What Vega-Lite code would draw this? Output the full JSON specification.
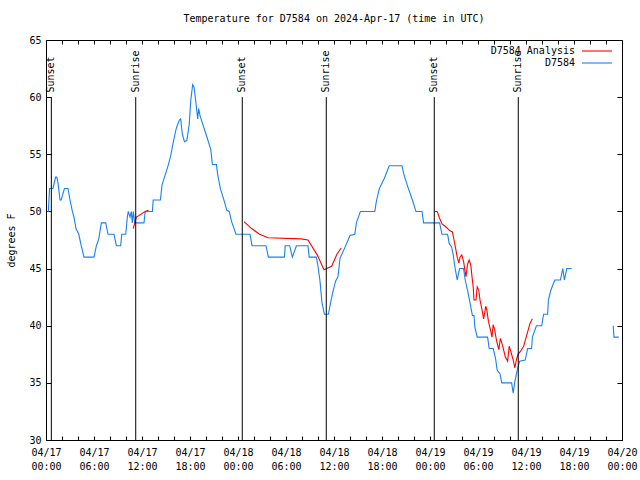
{
  "$schema": "https://vega.github.io/schema/vega-lite/v6.json",
  "width": 576,
  "height": 400,
  "autosize": {"type": "none"},
  "padding": {"left": 46, "top": 40, "right": 18, "bottom": 40},
  "background": "white",
  "title": {"text": "Temperature for D7584 on 2024-Apr-17 (time in UTC)", "font": "DejaVu Sans Mono", "fontSize": 10, "fontWeight": "normal", "color": "black", "offset": 11},
  "config": {
    "view": {"stroke": "black", "strokeWidth": 1},
    "axis": {"labelFont": "DejaVu Sans Mono", "labelFontSize": 10, "labelColor": "black", "titleFont": "DejaVu Sans Mono", "titleFontSize": 10, "titleFontWeight": "normal", "titleColor": "black", "grid": false, "domain": false, "tickColor": "black", "tickWidth": 1}
  },
  "datasets": {
    "temps": [
      {"time": "2024-04-17T00:10:00Z", "temp": 50, "series": "D7584", "seg": "b1"},
      {"time": "2024-04-17T00:18:00Z", "temp": 50, "series": "D7584", "seg": "b1"},
      {"time": "2024-04-17T00:22:00Z", "temp": 51, "series": "D7584", "seg": "b1"},
      {"time": "2024-04-17T00:27:00Z", "temp": 52, "series": "D7584", "seg": "b1"},
      {"time": "2024-04-17T00:52:00Z", "temp": 52, "series": "D7584", "seg": "b1"},
      {"time": "2024-04-17T01:00:00Z", "temp": 52.4, "series": "D7584", "seg": "b1"},
      {"time": "2024-04-17T01:12:00Z", "temp": 53, "series": "D7584", "seg": "b1"},
      {"time": "2024-04-17T01:21:00Z", "temp": 53, "series": "D7584", "seg": "b1"},
      {"time": "2024-04-17T01:30:00Z", "temp": 52.5, "series": "D7584", "seg": "b1"},
      {"time": "2024-04-17T01:45:00Z", "temp": 51, "series": "D7584", "seg": "b1"},
      {"time": "2024-04-17T01:54:00Z", "temp": 51, "series": "D7584", "seg": "b1"},
      {"time": "2024-04-17T02:18:00Z", "temp": 52, "series": "D7584", "seg": "b1"},
      {"time": "2024-04-17T02:45:00Z", "temp": 52, "series": "D7584", "seg": "b1"},
      {"time": "2024-04-17T03:00:00Z", "temp": 51, "series": "D7584", "seg": "b1"},
      {"time": "2024-04-17T03:18:00Z", "temp": 50, "series": "D7584", "seg": "b1"},
      {"time": "2024-04-17T03:30:00Z", "temp": 49.5, "series": "D7584", "seg": "b1"},
      {"time": "2024-04-17T03:45:00Z", "temp": 48.5, "series": "D7584", "seg": "b1"},
      {"time": "2024-04-17T04:06:00Z", "temp": 48, "series": "D7584", "seg": "b1"},
      {"time": "2024-04-17T04:24:00Z", "temp": 47, "series": "D7584", "seg": "b1"},
      {"time": "2024-04-17T04:45:00Z", "temp": 46, "series": "D7584", "seg": "b1"},
      {"time": "2024-04-17T06:00:00Z", "temp": 46, "series": "D7584", "seg": "b1"},
      {"time": "2024-04-17T06:18:00Z", "temp": 47, "series": "D7584", "seg": "b1"},
      {"time": "2024-04-17T06:36:00Z", "temp": 47.6, "series": "D7584", "seg": "b1"},
      {"time": "2024-04-17T06:55:00Z", "temp": 49, "series": "D7584", "seg": "b1"},
      {"time": "2024-04-17T07:28:00Z", "temp": 49, "series": "D7584", "seg": "b1"},
      {"time": "2024-04-17T07:45:00Z", "temp": 48, "series": "D7584", "seg": "b1"},
      {"time": "2024-04-17T08:30:00Z", "temp": 48, "series": "D7584", "seg": "b1"},
      {"time": "2024-04-17T08:48:00Z", "temp": 47, "series": "D7584", "seg": "b1"},
      {"time": "2024-04-17T09:20:00Z", "temp": 47, "series": "D7584", "seg": "b1"},
      {"time": "2024-04-17T09:28:00Z", "temp": 48, "series": "D7584", "seg": "b1"},
      {"time": "2024-04-17T09:58:00Z", "temp": 48, "series": "D7584", "seg": "b1"},
      {"time": "2024-04-17T10:10:00Z", "temp": 49.5, "series": "D7584", "seg": "b1"},
      {"time": "2024-04-17T10:17:00Z", "temp": 50, "series": "D7584", "seg": "b1"},
      {"time": "2024-04-17T10:30:00Z", "temp": 49.5, "series": "D7584", "seg": "b1"},
      {"time": "2024-04-17T10:40:00Z", "temp": 50, "series": "D7584", "seg": "b1"},
      {"time": "2024-04-17T10:47:00Z", "temp": 49, "series": "D7584", "seg": "b1"},
      {"time": "2024-04-17T10:55:00Z", "temp": 50, "series": "D7584", "seg": "b1"},
      {"time": "2024-04-17T11:05:00Z", "temp": 49, "series": "D7584", "seg": "b1"},
      {"time": "2024-04-17T12:15:00Z", "temp": 49, "series": "D7584", "seg": "b1"},
      {"time": "2024-04-17T12:24:00Z", "temp": 50, "series": "D7584", "seg": "b1"},
      {"time": "2024-04-17T13:18:00Z", "temp": 50, "series": "D7584", "seg": "b1"},
      {"time": "2024-04-17T13:24:00Z", "temp": 51, "series": "D7584", "seg": "b1"},
      {"time": "2024-04-17T14:18:00Z", "temp": 51, "series": "D7584", "seg": "b1"},
      {"time": "2024-04-17T14:30:00Z", "temp": 52.3, "series": "D7584", "seg": "b1"},
      {"time": "2024-04-17T14:54:00Z", "temp": 53.2, "series": "D7584", "seg": "b1"},
      {"time": "2024-04-17T15:18:00Z", "temp": 54.1, "series": "D7584", "seg": "b1"},
      {"time": "2024-04-17T15:36:00Z", "temp": 54.9, "series": "D7584", "seg": "b1"},
      {"time": "2024-04-17T15:48:00Z", "temp": 55.7, "series": "D7584", "seg": "b1"},
      {"time": "2024-04-17T16:06:00Z", "temp": 56.7, "series": "D7584", "seg": "b1"},
      {"time": "2024-04-17T16:18:00Z", "temp": 57.3, "series": "D7584", "seg": "b1"},
      {"time": "2024-04-17T16:40:00Z", "temp": 58, "series": "D7584", "seg": "b1"},
      {"time": "2024-04-17T16:50:00Z", "temp": 58.1, "series": "D7584", "seg": "b1"},
      {"time": "2024-04-17T17:02:00Z", "temp": 56.8, "series": "D7584", "seg": "b1"},
      {"time": "2024-04-17T17:18:00Z", "temp": 56.1, "series": "D7584", "seg": "b1"},
      {"time": "2024-04-17T17:36:00Z", "temp": 56.2, "series": "D7584", "seg": "b1"},
      {"time": "2024-04-17T17:54:00Z", "temp": 57.6, "series": "D7584", "seg": "b1"},
      {"time": "2024-04-17T18:06:00Z", "temp": 59.75, "series": "D7584", "seg": "b1"},
      {"time": "2024-04-17T18:20:00Z", "temp": 61.1, "series": "D7584", "seg": "b1"},
      {"time": "2024-04-17T18:30:00Z", "temp": 60.9, "series": "D7584", "seg": "b1"},
      {"time": "2024-04-17T18:42:00Z", "temp": 59.75, "series": "D7584", "seg": "b1"},
      {"time": "2024-04-17T18:58:00Z", "temp": 58.1, "series": "D7584", "seg": "b1"},
      {"time": "2024-04-17T19:05:00Z", "temp": 59, "series": "D7584", "seg": "b1"},
      {"time": "2024-04-17T19:15:00Z", "temp": 58.4, "series": "D7584", "seg": "b1"},
      {"time": "2024-04-17T19:28:00Z", "temp": 57.9, "series": "D7584", "seg": "b1"},
      {"time": "2024-04-17T19:45:00Z", "temp": 57.3, "series": "D7584", "seg": "b1"},
      {"time": "2024-04-17T20:18:00Z", "temp": 56.1, "series": "D7584", "seg": "b1"},
      {"time": "2024-04-17T20:36:00Z", "temp": 55.4, "series": "D7584", "seg": "b1"},
      {"time": "2024-04-17T20:48:00Z", "temp": 54.1, "series": "D7584", "seg": "b1"},
      {"time": "2024-04-17T21:18:00Z", "temp": 54.1, "series": "D7584", "seg": "b1"},
      {"time": "2024-04-17T21:28:00Z", "temp": 53.2, "series": "D7584", "seg": "b1"},
      {"time": "2024-04-17T21:48:00Z", "temp": 52, "series": "D7584", "seg": "b1"},
      {"time": "2024-04-17T22:12:00Z", "temp": 51.1, "series": "D7584", "seg": "b1"},
      {"time": "2024-04-17T22:36:00Z", "temp": 50.1, "series": "D7584", "seg": "b1"},
      {"time": "2024-04-17T22:54:00Z", "temp": 50, "series": "D7584", "seg": "b1"},
      {"time": "2024-04-17T23:12:00Z", "temp": 49.1, "series": "D7584", "seg": "b1"},
      {"time": "2024-04-17T23:45:00Z", "temp": 48, "series": "D7584", "seg": "b1"},
      {"time": "2024-04-18T01:30:00Z", "temp": 48, "series": "D7584", "seg": "b1"},
      {"time": "2024-04-18T01:45:00Z", "temp": 47, "series": "D7584", "seg": "b1"},
      {"time": "2024-04-18T03:30:00Z", "temp": 47, "series": "D7584", "seg": "b1"},
      {"time": "2024-04-18T03:48:00Z", "temp": 46, "series": "D7584", "seg": "b1"},
      {"time": "2024-04-18T05:48:00Z", "temp": 46, "series": "D7584", "seg": "b1"},
      {"time": "2024-04-18T05:54:00Z", "temp": 47, "series": "D7584", "seg": "b1"},
      {"time": "2024-04-18T06:27:00Z", "temp": 47, "series": "D7584", "seg": "b1"},
      {"time": "2024-04-18T06:48:00Z", "temp": 46, "series": "D7584", "seg": "b1"},
      {"time": "2024-04-18T07:18:00Z", "temp": 47, "series": "D7584", "seg": "b1"},
      {"time": "2024-04-18T08:45:00Z", "temp": 47, "series": "D7584", "seg": "b1"},
      {"time": "2024-04-18T08:54:00Z", "temp": 46, "series": "D7584", "seg": "b1"},
      {"time": "2024-04-18T09:48:00Z", "temp": 46, "series": "D7584", "seg": "b1"},
      {"time": "2024-04-18T10:00:00Z", "temp": 45.2, "series": "D7584", "seg": "b1"},
      {"time": "2024-04-18T10:15:00Z", "temp": 43.9, "series": "D7584", "seg": "b1"},
      {"time": "2024-04-18T10:30:00Z", "temp": 42, "series": "D7584", "seg": "b1"},
      {"time": "2024-04-18T10:48:00Z", "temp": 41, "series": "D7584", "seg": "b1"},
      {"time": "2024-04-18T11:18:00Z", "temp": 41, "series": "D7584", "seg": "b1"},
      {"time": "2024-04-18T11:36:00Z", "temp": 42.1, "series": "D7584", "seg": "b1"},
      {"time": "2024-04-18T11:54:00Z", "temp": 43.1, "series": "D7584", "seg": "b1"},
      {"time": "2024-04-18T12:12:00Z", "temp": 43.9, "series": "D7584", "seg": "b1"},
      {"time": "2024-04-18T12:30:00Z", "temp": 44.3, "series": "D7584", "seg": "b1"},
      {"time": "2024-04-18T12:45:00Z", "temp": 45.9, "series": "D7584", "seg": "b1"},
      {"time": "2024-04-18T13:24:00Z", "temp": 46.9, "series": "D7584", "seg": "b1"},
      {"time": "2024-04-18T14:00:00Z", "temp": 47.9, "series": "D7584", "seg": "b1"},
      {"time": "2024-04-18T14:36:00Z", "temp": 48, "series": "D7584", "seg": "b1"},
      {"time": "2024-04-18T14:48:00Z", "temp": 49, "series": "D7584", "seg": "b1"},
      {"time": "2024-04-18T15:18:00Z", "temp": 50, "series": "D7584", "seg": "b1"},
      {"time": "2024-04-18T17:06:00Z", "temp": 50, "series": "D7584", "seg": "b1"},
      {"time": "2024-04-18T17:18:00Z", "temp": 50.9, "series": "D7584", "seg": "b1"},
      {"time": "2024-04-18T17:40:00Z", "temp": 52, "series": "D7584", "seg": "b1"},
      {"time": "2024-04-18T18:18:00Z", "temp": 52.9, "series": "D7584", "seg": "b1"},
      {"time": "2024-04-18T18:54:00Z", "temp": 54, "series": "D7584", "seg": "b1"},
      {"time": "2024-04-18T20:30:00Z", "temp": 54, "series": "D7584", "seg": "b1"},
      {"time": "2024-04-18T20:45:00Z", "temp": 53.2, "series": "D7584", "seg": "b1"},
      {"time": "2024-04-18T21:18:00Z", "temp": 52, "series": "D7584", "seg": "b1"},
      {"time": "2024-04-18T21:48:00Z", "temp": 51, "series": "D7584", "seg": "b1"},
      {"time": "2024-04-18T22:15:00Z", "temp": 50, "series": "D7584", "seg": "b1"},
      {"time": "2024-04-18T23:00:00Z", "temp": 50, "series": "D7584", "seg": "b1"},
      {"time": "2024-04-18T23:12:00Z", "temp": 49, "series": "D7584", "seg": "b1"},
      {"time": "2024-04-19T01:12:00Z", "temp": 49, "series": "D7584", "seg": "b1"},
      {"time": "2024-04-19T01:30:00Z", "temp": 48, "series": "D7584", "seg": "b1"},
      {"time": "2024-04-19T02:12:00Z", "temp": 48, "series": "D7584", "seg": "b1"},
      {"time": "2024-04-19T02:24:00Z", "temp": 47.2, "series": "D7584", "seg": "b1"},
      {"time": "2024-04-19T02:42:00Z", "temp": 46.9, "series": "D7584", "seg": "b1"},
      {"time": "2024-04-19T02:54:00Z", "temp": 46.2, "series": "D7584", "seg": "b1"},
      {"time": "2024-04-19T03:06:00Z", "temp": 45.2, "series": "D7584", "seg": "b1"},
      {"time": "2024-04-19T03:24:00Z", "temp": 44, "series": "D7584", "seg": "b1"},
      {"time": "2024-04-19T03:42:00Z", "temp": 45, "series": "D7584", "seg": "b1"},
      {"time": "2024-04-19T04:12:00Z", "temp": 45, "series": "D7584", "seg": "b1"},
      {"time": "2024-04-19T04:24:00Z", "temp": 44, "series": "D7584", "seg": "b1"},
      {"time": "2024-04-19T04:42:00Z", "temp": 43.1, "series": "D7584", "seg": "b1"},
      {"time": "2024-04-19T05:00:00Z", "temp": 42, "series": "D7584", "seg": "b1"},
      {"time": "2024-04-19T05:18:00Z", "temp": 40.9, "series": "D7584", "seg": "b1"},
      {"time": "2024-04-19T05:30:00Z", "temp": 40.9, "series": "D7584", "seg": "b1"},
      {"time": "2024-04-19T05:36:00Z", "temp": 39.9, "series": "D7584", "seg": "b1"},
      {"time": "2024-04-19T05:54:00Z", "temp": 39, "series": "D7584", "seg": "b1"},
      {"time": "2024-04-19T07:12:00Z", "temp": 39, "series": "D7584", "seg": "b1"},
      {"time": "2024-04-19T07:24:00Z", "temp": 38, "series": "D7584", "seg": "b1"},
      {"time": "2024-04-19T07:54:00Z", "temp": 38, "series": "D7584", "seg": "b1"},
      {"time": "2024-04-19T08:12:00Z", "temp": 37.1, "series": "D7584", "seg": "b1"},
      {"time": "2024-04-19T08:24:00Z", "temp": 36.1, "series": "D7584", "seg": "b1"},
      {"time": "2024-04-19T08:45:00Z", "temp": 35.8, "series": "D7584", "seg": "b1"},
      {"time": "2024-04-19T08:58:00Z", "temp": 35, "series": "D7584", "seg": "b1"},
      {"time": "2024-04-19T10:12:00Z", "temp": 35, "series": "D7584", "seg": "b1"},
      {"time": "2024-04-19T10:24:00Z", "temp": 34.1, "series": "D7584", "seg": "b1"},
      {"time": "2024-04-19T10:36:00Z", "temp": 35.1, "series": "D7584", "seg": "b1"},
      {"time": "2024-04-19T10:54:00Z", "temp": 36.1, "series": "D7584", "seg": "b1"},
      {"time": "2024-04-19T11:12:00Z", "temp": 36.9, "series": "D7584", "seg": "b1"},
      {"time": "2024-04-19T11:54:00Z", "temp": 37, "series": "D7584", "seg": "b1"},
      {"time": "2024-04-19T12:12:00Z", "temp": 38, "series": "D7584", "seg": "b1"},
      {"time": "2024-04-19T12:42:00Z", "temp": 38, "series": "D7584", "seg": "b1"},
      {"time": "2024-04-19T12:48:00Z", "temp": 39, "series": "D7584", "seg": "b1"},
      {"time": "2024-04-19T13:18:00Z", "temp": 40, "series": "D7584", "seg": "b1"},
      {"time": "2024-04-19T13:58:00Z", "temp": 40, "series": "D7584", "seg": "b1"},
      {"time": "2024-04-19T14:12:00Z", "temp": 41, "series": "D7584", "seg": "b1"},
      {"time": "2024-04-19T14:42:00Z", "temp": 41, "series": "D7584", "seg": "b1"},
      {"time": "2024-04-19T14:48:00Z", "temp": 42.25, "series": "D7584", "seg": "b1"},
      {"time": "2024-04-19T15:06:00Z", "temp": 43.1, "series": "D7584", "seg": "b1"},
      {"time": "2024-04-19T15:36:00Z", "temp": 44, "series": "D7584", "seg": "b1"},
      {"time": "2024-04-19T16:18:00Z", "temp": 44, "series": "D7584", "seg": "b1"},
      {"time": "2024-04-19T16:36:00Z", "temp": 45, "series": "D7584", "seg": "b1"},
      {"time": "2024-04-19T16:48:00Z", "temp": 44, "series": "D7584", "seg": "b1"},
      {"time": "2024-04-19T17:06:00Z", "temp": 45, "series": "D7584", "seg": "b1"},
      {"time": "2024-04-19T17:42:00Z", "temp": 45, "series": "D7584", "seg": "b1"},
      {"time": "2024-04-19T22:54:00Z", "temp": 40, "series": "D7584", "seg": "b2"},
      {"time": "2024-04-19T23:00:00Z", "temp": 39, "series": "D7584", "seg": "b2"},
      {"time": "2024-04-19T23:36:00Z", "temp": 39, "series": "D7584", "seg": "b2"},
      {"time": "2024-04-17T10:54:00Z", "temp": 48.5, "series": "D7584 Analysis", "seg": "r1"},
      {"time": "2024-04-17T11:18:00Z", "temp": 49.5, "series": "D7584 Analysis", "seg": "r1"},
      {"time": "2024-04-17T11:45:00Z", "temp": 49.7, "series": "D7584 Analysis", "seg": "r1"},
      {"time": "2024-04-17T12:24:00Z", "temp": 50, "series": "D7584 Analysis", "seg": "r1"},
      {"time": "2024-04-17T12:48:00Z", "temp": 50.1, "series": "D7584 Analysis", "seg": "r1"},
      {"time": "2024-04-18T00:45:00Z", "temp": 49.1, "series": "D7584 Analysis", "seg": "r2"},
      {"time": "2024-04-18T01:42:00Z", "temp": 48.5, "series": "D7584 Analysis", "seg": "r2"},
      {"time": "2024-04-18T02:42:00Z", "temp": 48.0, "series": "D7584 Analysis", "seg": "r2"},
      {"time": "2024-04-18T03:45:00Z", "temp": 47.7, "series": "D7584 Analysis", "seg": "r2"},
      {"time": "2024-04-18T07:54:00Z", "temp": 47.6, "series": "D7584 Analysis", "seg": "r2"},
      {"time": "2024-04-18T08:45:00Z", "temp": 47.5, "series": "D7584 Analysis", "seg": "r2"},
      {"time": "2024-04-18T09:54:00Z", "temp": 46.2, "series": "D7584 Analysis", "seg": "r2"},
      {"time": "2024-04-18T10:45:00Z", "temp": 44.9, "series": "D7584 Analysis", "seg": "r2"},
      {"time": "2024-04-18T11:42:00Z", "temp": 45.2, "series": "D7584 Analysis", "seg": "r2"},
      {"time": "2024-04-18T12:24:00Z", "temp": 46.3, "series": "D7584 Analysis", "seg": "r2"},
      {"time": "2024-04-18T12:54:00Z", "temp": 46.8, "series": "D7584 Analysis", "seg": "r2"},
      {"time": "2024-04-19T00:36:00Z", "temp": 50.0, "series": "D7584 Analysis", "seg": "r3"},
      {"time": "2024-04-19T00:54:00Z", "temp": 50.0, "series": "D7584 Analysis", "seg": "r3"},
      {"time": "2024-04-19T01:12:00Z", "temp": 49.4, "series": "D7584 Analysis", "seg": "r3"},
      {"time": "2024-04-19T01:30:00Z", "temp": 48.9, "series": "D7584 Analysis", "seg": "r3"},
      {"time": "2024-04-19T01:54:00Z", "temp": 48.7, "series": "D7584 Analysis", "seg": "r3"},
      {"time": "2024-04-19T02:30:00Z", "temp": 48.3, "series": "D7584 Analysis", "seg": "r3"},
      {"time": "2024-04-19T02:48:00Z", "temp": 48.2, "series": "D7584 Analysis", "seg": "r3"},
      {"time": "2024-04-19T03:00:00Z", "temp": 47.5, "series": "D7584 Analysis", "seg": "r3"},
      {"time": "2024-04-19T03:15:00Z", "temp": 46.6, "series": "D7584 Analysis", "seg": "r3"},
      {"time": "2024-04-19T03:24:00Z", "temp": 46.0, "series": "D7584 Analysis", "seg": "r3"},
      {"time": "2024-04-19T03:36:00Z", "temp": 45.5, "series": "D7584 Analysis", "seg": "r3"},
      {"time": "2024-04-19T03:45:00Z", "temp": 46.0, "series": "D7584 Analysis", "seg": "r3"},
      {"time": "2024-04-19T03:58:00Z", "temp": 46.2, "series": "D7584 Analysis", "seg": "r3"},
      {"time": "2024-04-19T04:12:00Z", "temp": 45.6, "series": "D7584 Analysis", "seg": "r3"},
      {"time": "2024-04-19T04:24:00Z", "temp": 44.7, "series": "D7584 Analysis", "seg": "r3"},
      {"time": "2024-04-19T04:30:00Z", "temp": 44.3, "series": "D7584 Analysis", "seg": "r3"},
      {"time": "2024-04-19T04:42:00Z", "temp": 45.4, "series": "D7584 Analysis", "seg": "r3"},
      {"time": "2024-04-19T04:54:00Z", "temp": 45.75, "series": "D7584 Analysis", "seg": "r3"},
      {"time": "2024-04-19T05:06:00Z", "temp": 45.3, "series": "D7584 Analysis", "seg": "r3"},
      {"time": "2024-04-19T05:15:00Z", "temp": 44.3, "series": "D7584 Analysis", "seg": "r3"},
      {"time": "2024-04-19T05:24:00Z", "temp": 43.4, "series": "D7584 Analysis", "seg": "r3"},
      {"time": "2024-04-19T05:30:00Z", "temp": 42.25, "series": "D7584 Analysis", "seg": "r3"},
      {"time": "2024-04-19T05:45:00Z", "temp": 42.25, "series": "D7584 Analysis", "seg": "r3"},
      {"time": "2024-04-19T05:54:00Z", "temp": 43.4, "series": "D7584 Analysis", "seg": "r3"},
      {"time": "2024-04-19T06:06:00Z", "temp": 43.1, "series": "D7584 Analysis", "seg": "r3"},
      {"time": "2024-04-19T06:15:00Z", "temp": 42.25, "series": "D7584 Analysis", "seg": "r3"},
      {"time": "2024-04-19T06:30:00Z", "temp": 41.4, "series": "D7584 Analysis", "seg": "r3"},
      {"time": "2024-04-19T06:42:00Z", "temp": 40.6, "series": "D7584 Analysis", "seg": "r3"},
      {"time": "2024-04-19T06:48:00Z", "temp": 41.0, "series": "D7584 Analysis", "seg": "r3"},
      {"time": "2024-04-19T06:58:00Z", "temp": 41.7, "series": "D7584 Analysis", "seg": "r3"},
      {"time": "2024-04-19T07:06:00Z", "temp": 41.4, "series": "D7584 Analysis", "seg": "r3"},
      {"time": "2024-04-19T07:18:00Z", "temp": 40.4, "series": "D7584 Analysis", "seg": "r3"},
      {"time": "2024-04-19T07:36:00Z", "temp": 39.5, "series": "D7584 Analysis", "seg": "r3"},
      {"time": "2024-04-19T07:45:00Z", "temp": 39.0, "series": "D7584 Analysis", "seg": "r3"},
      {"time": "2024-04-19T07:54:00Z", "temp": 40.1, "series": "D7584 Analysis", "seg": "r3"},
      {"time": "2024-04-19T08:06:00Z", "temp": 39.6, "series": "D7584 Analysis", "seg": "r3"},
      {"time": "2024-04-19T08:18:00Z", "temp": 38.75, "series": "D7584 Analysis", "seg": "r3"},
      {"time": "2024-04-19T08:36:00Z", "temp": 37.9, "series": "D7584 Analysis", "seg": "r3"},
      {"time": "2024-04-19T08:48:00Z", "temp": 38.9, "series": "D7584 Analysis", "seg": "r3"},
      {"time": "2024-04-19T09:06:00Z", "temp": 38.2, "series": "D7584 Analysis", "seg": "r3"},
      {"time": "2024-04-19T09:24:00Z", "temp": 37.3, "series": "D7584 Analysis", "seg": "r3"},
      {"time": "2024-04-19T09:42:00Z", "temp": 36.9, "series": "D7584 Analysis", "seg": "r3"},
      {"time": "2024-04-19T09:54:00Z", "temp": 38.2, "series": "D7584 Analysis", "seg": "r3"},
      {"time": "2024-04-19T10:06:00Z", "temp": 37.75, "series": "D7584 Analysis", "seg": "r3"},
      {"time": "2024-04-19T10:24:00Z", "temp": 37.0, "series": "D7584 Analysis", "seg": "r3"},
      {"time": "2024-04-19T10:36:00Z", "temp": 36.3, "series": "D7584 Analysis", "seg": "r3"},
      {"time": "2024-04-19T10:48:00Z", "temp": 37.0, "series": "D7584 Analysis", "seg": "r3"},
      {"time": "2024-04-19T11:00:00Z", "temp": 37.5, "series": "D7584 Analysis", "seg": "r3"},
      {"time": "2024-04-19T11:18:00Z", "temp": 37.75, "series": "D7584 Analysis", "seg": "r3"},
      {"time": "2024-04-19T11:42:00Z", "temp": 38.2, "series": "D7584 Analysis", "seg": "r3"},
      {"time": "2024-04-19T12:06:00Z", "temp": 39.2, "series": "D7584 Analysis", "seg": "r3"},
      {"time": "2024-04-19T12:30:00Z", "temp": 40.2, "series": "D7584 Analysis", "seg": "r3"},
      {"time": "2024-04-19T12:48:00Z", "temp": 40.6, "series": "D7584 Analysis", "seg": "r3"}
    ],
    "sun": [
      {"time": "2024-04-17T00:40:00Z", "event": "Sunset"},
      {"time": "2024-04-17T11:13:00Z", "event": "Sunrise"},
      {"time": "2024-04-18T00:32:00Z", "event": "Sunset"},
      {"time": "2024-04-18T11:02:00Z", "event": "Sunrise"},
      {"time": "2024-04-19T00:32:00Z", "event": "Sunset"},
      {"time": "2024-04-19T11:02:00Z", "event": "Sunrise"}
    ]
  },
  "layer": [
    {
      "data": {"name": "temps"},
      "mark": {"type": "line", "strokeWidth": 1.1, "interpolate": "linear"},
      "encoding": {
        "x": {
          "field": "time", "type": "temporal",
          "scale": {"type": "utc", "domain": [{"year": 2024, "month": 4, "date": 17, "utc": true}, {"year": 2024, "month": 4, "date": 20, "utc": true}], "nice": false},
          "axis": {
            "orient": "bottom", "title": null,
            "values": [
              {"year": 2024, "month": 4, "date": 17, "hours": 0, "utc": true},
              {"year": 2024, "month": 4, "date": 17, "hours": 2, "utc": true},
              {"year": 2024, "month": 4, "date": 17, "hours": 4, "utc": true},
              {"year": 2024, "month": 4, "date": 17, "hours": 6, "utc": true},
              {"year": 2024, "month": 4, "date": 17, "hours": 8, "utc": true},
              {"year": 2024, "month": 4, "date": 17, "hours": 10, "utc": true},
              {"year": 2024, "month": 4, "date": 17, "hours": 12, "utc": true},
              {"year": 2024, "month": 4, "date": 17, "hours": 14, "utc": true},
              {"year": 2024, "month": 4, "date": 17, "hours": 16, "utc": true},
              {"year": 2024, "month": 4, "date": 17, "hours": 18, "utc": true},
              {"year": 2024, "month": 4, "date": 17, "hours": 20, "utc": true},
              {"year": 2024, "month": 4, "date": 17, "hours": 22, "utc": true},
              {"year": 2024, "month": 4, "date": 18, "hours": 0, "utc": true},
              {"year": 2024, "month": 4, "date": 18, "hours": 2, "utc": true},
              {"year": 2024, "month": 4, "date": 18, "hours": 4, "utc": true},
              {"year": 2024, "month": 4, "date": 18, "hours": 6, "utc": true},
              {"year": 2024, "month": 4, "date": 18, "hours": 8, "utc": true},
              {"year": 2024, "month": 4, "date": 18, "hours": 10, "utc": true},
              {"year": 2024, "month": 4, "date": 18, "hours": 12, "utc": true},
              {"year": 2024, "month": 4, "date": 18, "hours": 14, "utc": true},
              {"year": 2024, "month": 4, "date": 18, "hours": 16, "utc": true},
              {"year": 2024, "month": 4, "date": 18, "hours": 18, "utc": true},
              {"year": 2024, "month": 4, "date": 18, "hours": 20, "utc": true},
              {"year": 2024, "month": 4, "date": 18, "hours": 22, "utc": true},
              {"year": 2024, "month": 4, "date": 19, "hours": 0, "utc": true},
              {"year": 2024, "month": 4, "date": 19, "hours": 2, "utc": true},
              {"year": 2024, "month": 4, "date": 19, "hours": 4, "utc": true},
              {"year": 2024, "month": 4, "date": 19, "hours": 6, "utc": true},
              {"year": 2024, "month": 4, "date": 19, "hours": 8, "utc": true},
              {"year": 2024, "month": 4, "date": 19, "hours": 10, "utc": true},
              {"year": 2024, "month": 4, "date": 19, "hours": 12, "utc": true},
              {"year": 2024, "month": 4, "date": 19, "hours": 14, "utc": true},
              {"year": 2024, "month": 4, "date": 19, "hours": 16, "utc": true},
              {"year": 2024, "month": 4, "date": 19, "hours": 18, "utc": true},
              {"year": 2024, "month": 4, "date": 19, "hours": 20, "utc": true},
              {"year": 2024, "month": 4, "date": 19, "hours": 22, "utc": true},
              {"year": 2024, "month": 4, "date": 20, "hours": 0, "utc": true}
            ],
            "tickCount": 100,
            "labelExpr": "utchours(datum.value) % 6 == 0 ? [utcFormat(datum.value, '%m/%d'), utcFormat(datum.value, '%H:%M')] : ''",
            "labelOverlap": false, "labelBound": false, "labelFlush": false,
            "labelAlign": "center", "labelBaseline": "top", "labelLineHeight": 14,
            "tickSize": -4,
            "labelPadding": 11
          }
        },
        "y": {
          "field": "temp", "type": "quantitative",
          "scale": {"domain": [30, 65], "nice": false, "zero": false},
          "axis": {"orient": "left", "title": "degrees F", "values": [30, 35, 40, 45, 50, 55, 60, 65], "tickCount": 100, "format": "d", "tickSize": -5, "labelPadding": 10, "titlePadding": 12}
        },
        "color": {
          "field": "series", "type": "nominal",
          "scale": {"domain": ["D7584 Analysis", "D7584"], "range": ["#ff0000", "#1a80f0"]},
          "legend": {"title": null, "orient": "none", "legendX": 544, "legendY": 4, "padding": 0, "rowPadding": 0, "symbolType": "M-2.5,0H2.5", "symbolSize": 144, "symbolStrokeWidth": 1.1, "labelAlign": "right", "labelOffset": -29, "labelFont": "DejaVu Sans Mono", "labelFontSize": 10, "labelColor": "black"}
        },
        "detail": {"field": "seg", "type": "nominal"}
      }
    },
    {
      "data": {"name": "sun"},
      "mark": {"type": "rule", "color": "black", "strokeWidth": 1},
      "encoding": {
        "x": {"field": "time", "type": "temporal", "axis": null},
        "y": {"datum": 60, "axis": null},
        "y2": {"datum": 30}
      }
    },
    {
      "data": {"name": "sun"},
      "mark": {"type": "text", "angle": 270, "align": "left", "baseline": "middle", "font": "DejaVu Sans Mono", "fontSize": 10, "color": "black"},
      "encoding": {
        "x": {"field": "time", "type": "temporal", "axis": null},
        "y": {"datum": 60.4, "axis": null},
        "text": {"field": "event"}
      }
    },
    {
      "data": {"name": "temps"},
      "mark": {"type": "point", "opacity": 0},
      "encoding": {
        "x": {
          "field": "time", "type": "temporal",
          "axis": {
            "orient": "top", "title": null, "labels": false, "tickSize": -4, "tickCount": 100,
            "values": [
              {"year": 2024, "month": 4, "date": 17, "hours": 0, "utc": true},
              {"year": 2024, "month": 4, "date": 17, "hours": 2, "utc": true},
              {"year": 2024, "month": 4, "date": 17, "hours": 4, "utc": true},
              {"year": 2024, "month": 4, "date": 17, "hours": 6, "utc": true},
              {"year": 2024, "month": 4, "date": 17, "hours": 8, "utc": true},
              {"year": 2024, "month": 4, "date": 17, "hours": 10, "utc": true},
              {"year": 2024, "month": 4, "date": 17, "hours": 12, "utc": true},
              {"year": 2024, "month": 4, "date": 17, "hours": 14, "utc": true},
              {"year": 2024, "month": 4, "date": 17, "hours": 16, "utc": true},
              {"year": 2024, "month": 4, "date": 17, "hours": 18, "utc": true},
              {"year": 2024, "month": 4, "date": 17, "hours": 20, "utc": true},
              {"year": 2024, "month": 4, "date": 17, "hours": 22, "utc": true},
              {"year": 2024, "month": 4, "date": 18, "hours": 0, "utc": true},
              {"year": 2024, "month": 4, "date": 18, "hours": 2, "utc": true},
              {"year": 2024, "month": 4, "date": 18, "hours": 4, "utc": true},
              {"year": 2024, "month": 4, "date": 18, "hours": 6, "utc": true},
              {"year": 2024, "month": 4, "date": 18, "hours": 8, "utc": true},
              {"year": 2024, "month": 4, "date": 18, "hours": 10, "utc": true},
              {"year": 2024, "month": 4, "date": 18, "hours": 12, "utc": true},
              {"year": 2024, "month": 4, "date": 18, "hours": 14, "utc": true},
              {"year": 2024, "month": 4, "date": 18, "hours": 16, "utc": true},
              {"year": 2024, "month": 4, "date": 18, "hours": 18, "utc": true},
              {"year": 2024, "month": 4, "date": 18, "hours": 20, "utc": true},
              {"year": 2024, "month": 4, "date": 18, "hours": 22, "utc": true},
              {"year": 2024, "month": 4, "date": 19, "hours": 0, "utc": true},
              {"year": 2024, "month": 4, "date": 19, "hours": 2, "utc": true},
              {"year": 2024, "month": 4, "date": 19, "hours": 4, "utc": true},
              {"year": 2024, "month": 4, "date": 19, "hours": 6, "utc": true},
              {"year": 2024, "month": 4, "date": 19, "hours": 8, "utc": true},
              {"year": 2024, "month": 4, "date": 19, "hours": 10, "utc": true},
              {"year": 2024, "month": 4, "date": 19, "hours": 12, "utc": true},
              {"year": 2024, "month": 4, "date": 19, "hours": 14, "utc": true},
              {"year": 2024, "month": 4, "date": 19, "hours": 16, "utc": true},
              {"year": 2024, "month": 4, "date": 19, "hours": 18, "utc": true},
              {"year": 2024, "month": 4, "date": 19, "hours": 20, "utc": true},
              {"year": 2024, "month": 4, "date": 19, "hours": 22, "utc": true},
              {"year": 2024, "month": 4, "date": 20, "hours": 0, "utc": true}
            ]
          }
        },
        "y": {
          "field": "temp", "type": "quantitative",
          "axis": {"orient": "right", "title": null, "labels": false, "tickSize": -5, "tickCount": 100, "values": [30, 35, 40, 45, 50, 55, 60, 65]}
        }
      }
    }
  ],
  "resolve": {"scale": {"x": "shared", "y": "shared"}, "axis": {"x": "independent", "y": "independent"}}
}
